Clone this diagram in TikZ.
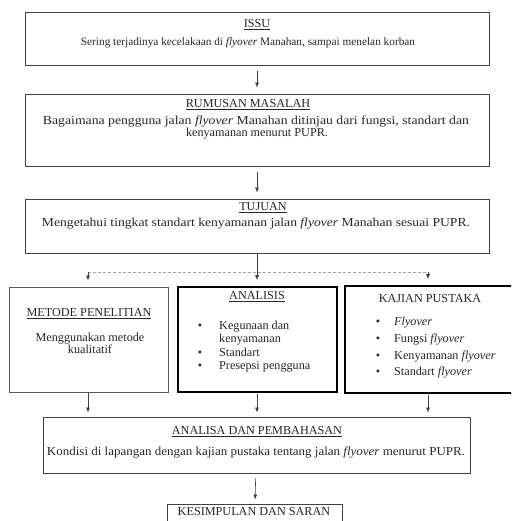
\documentclass[tikz,border=0pt]{standalone}
\usepackage{fontspec}
\usepackage{graphicx}
\setmainfont{Liberation Serif}
\usetikzlibrary{arrows.meta}
\newcommand\fitw[2]{\resizebox{#1}{\height}{#2}}
\begin{document}
\begin{tikzpicture}[x=1pt,y=-1pt,
  box/.style={draw=black!75, line width=0.9pt, inner sep=0pt},
  thinbox/.style={draw=black!65, line width=0.9pt, inner sep=0pt},
  thickbox/.style={draw=black, line width=1.7pt, inner sep=0pt},
  txt/.style={font=\fontsize{12.2}{13}\selectfont, text=black!85, anchor=mid, inner sep=0pt},
  stxt/.style={txt, font=\fontsize{11.3}{13}\selectfont},
  ltxt/.style={txt, anchor=mid west},
  arr/.style={-{Latex[length=5pt,width=4pt]}, draw=black!75, line width=0.6pt},
  bus/.style={draw=black!35, line width=0.6pt, dash pattern=on 3pt off 2pt},
]
\useasboundingbox (0,0) rectangle (511,521);
\clip (0,0) rectangle (511,521);
\fill[white] (0,0) rectangle (511,521);

% boxes
\node[box, minimum width=464pt, minimum height=53pt] (issu) at (257,38.5) {};
\node[box, minimum width=464pt, minimum height=72pt] (rum) at (257,130) {};
\node[box, minimum width=464pt, minimum height=54pt] (tuj) at (257,226) {};
\node[thinbox, minimum width=159pt, minimum height=105pt] (met) at (88.5,339.5) {};
\node[thickbox, minimum width=159pt, minimum height=105pt] (ana) at (257.5,339.5) {};
\node[thickbox, minimum width=175pt, minimum height=107pt] (kaj) at (432.5,339.5) {};
\node[box, minimum width=427pt, minimum height=56pt] (pem) at (256.5,445) {};
\node[box, minimum width=175pt, minimum height=36pt] (kes) at (254.5,522) {};

% texts
\node[txt] (t1) at (257,25) {\underline{ISSU}};
\node[stxt] (b1) at (248,43) {Sering terjadinya kecelakaan di \textit{flyover} Manahan, sampai menelan korban};
\node[txt] (t2) at (248,105) {\underline{RUMUSAN MASALAH}};
\node[txt] (b2a) at (256,122) {\fitw{426pt}{Bagaimana pengguna jalan \textit{flyover} Manahan ditinjau dari fungsi, standart dan}};
\node[txt] (b2b) at (257,134) {kenyamanan menurut PUPR.};
\node[txt] (t3) at (263,208) {\underline{TUJUAN}};
\node[txt] (b3) at (256,224) {\fitw{428pt}{Mengetahui tingkat standart kenyamanan jalan \textit{flyover} Manahan sesuai PUPR.}};

\node[txt] (t4) at (89,314) {\underline{METODE PENELITIAN}};
\node[txt] (b4a) at (90,339) {Menggunakan metode};
\node[txt] (b4b) at (90,351) {kualitatif};

\node[txt] (t5) at (257,297) {\underline{ANALISIS}};
\node[txt] (d5a) at (200,327) {•};
\node[ltxt] (b5a) at (219,327) {Kegunaan dan};
\node[ltxt] (b5b) at (219,340) {kenyamanan};
\node[txt] (d5c) at (200,354) {•};
\node[ltxt] (b5c) at (219,354) {Standart};
\node[txt] (d5d) at (200,367) {•};
\node[ltxt] (b5d) at (219,367) {Presepsi pengguna};

\node[txt] (t6) at (430,300) {KAJIAN PUSTAKA};
\node[txt] (d6a) at (378,323) {•};
\node[ltxt] (b6a) at (394,323) {\textit{Flyover}};
\node[txt] (d6b) at (378,340) {•};
\node[ltxt] (b6b) at (394,340) {Fungsi \textit{flyover}};
\node[txt] (d6c) at (378,357) {•};
\node[ltxt] (b6c) at (394,357) {Kenyamanan \textit{flyover}};
\node[txt] (d6d) at (378,373) {•};
\node[ltxt] (b6d) at (394,373) {Standart \textit{flyover}};

\node[txt] (t7) at (257,432) {\underline{ANALISA DAN PEMBAHASAN}};
\node[txt] (b7) at (256,453) {\fitw{418pt}{Kondisi di lapangan dengan kajian pustaka tentang jalan \textit{flyover} menurut PUPR.}};
\node[txt] (t8) at (254,513) {KESIMPULAN DAN SARAN};

% connectors
\coordinate (bl) at (88,272);
\coordinate (br) at (428,272);
\coordinate (bm) at (257,272);
\draw[arr, shorten <=6pt, shorten >=6pt] (issu) -- (rum);
\draw[arr, shorten <=6pt, shorten >=6pt] (rum) -- (tuj);
\draw[bus] (bl) -- (br);
\draw[arr, shorten >=6pt] (tuj.south -| bm) -- (ana.north -| bm);
\draw[arr, shorten >=6pt] (bl) -- (met.north -| bl);
\draw[arr, shorten >=6pt] (br) -- (kaj.north -| br);
\draw[arr, shorten <=1pt, shorten >=4pt] (met.south -| bl) -- (pem.north -| bl);
\draw[arr, shorten <=1pt, shorten >=4pt] (ana.south -| bm) -- (pem.north -| bm);
\draw[arr, shorten <=1pt, shorten >=4pt] (kaj.south -| br) -- (pem.north -| br);
\draw[arr, shorten <=5pt, shorten >=4pt] (pem) -- (kes);
\end{tikzpicture}
\end{document}
